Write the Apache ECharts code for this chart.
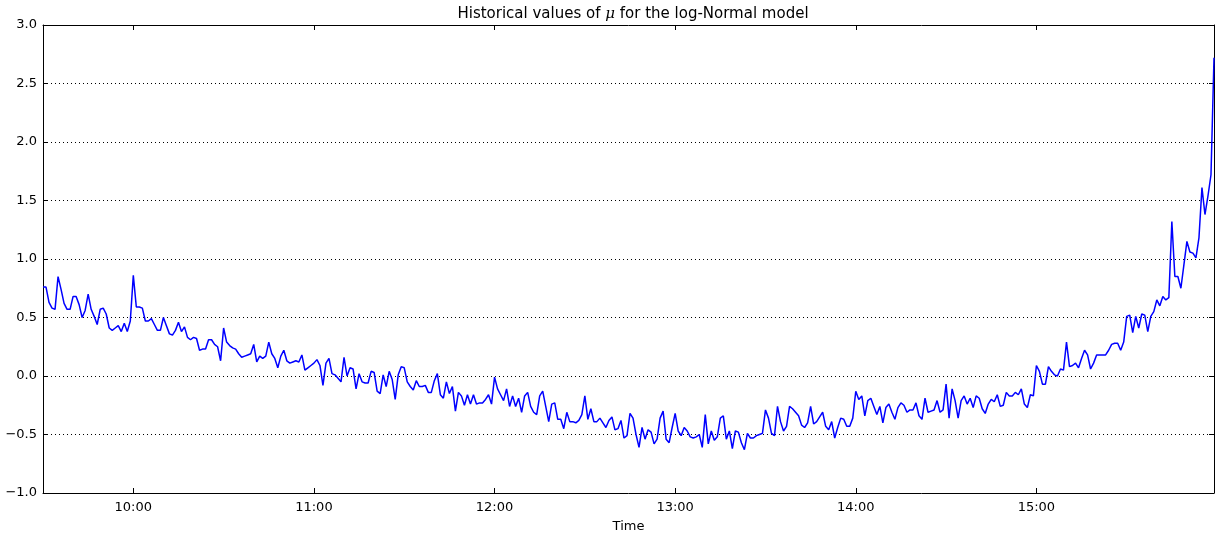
<!DOCTYPE html>
<html>
<head>
<meta charset="utf-8">
<script src="https://cdn.jsdelivr.net/npm/echarts@6/dist/echarts.min.js"></script>
<style>
  html, body { margin: 0; padding: 0; background: #fff; }
  #chart_example { width: 1219px; height: 538px; }
</style>
</head>
<body>
<div id="chart_example"></div>
<script>
// mu values, one per minute, starting 9:30
var startMinute = 9 * 60 + 30;
var mu0930 = [0.76,0.76,0.63,0.58,0.57,0.85,0.74,0.62,0.57,0.57,
  0.68,0.68,0.61,0.50,0.56,0.70,0.57,0.51,0.44,0.57,
  0.58,0.53,0.41,0.39,0.41,0.43,0.38,0.45,0.38,0.47];
var mu1000 = [0.86,0.59,0.59,0.58,0.47,0.47,0.49,0.44,0.39,0.39,
  0.50,0.43,0.36,0.35,0.39,0.46,0.38,0.42,0.33,0.31,
  0.33,0.32,0.22,0.23,0.23,0.31,0.31,0.27,0.25,0.13,
  0.41,0.29,0.26,0.24,0.23,0.19,0.16,0.17,0.18,0.19,
  0.27,0.12,0.17,0.15,0.17,0.29,0.19,0.15,0.07,0.17,
  0.22,0.13,0.11,0.12,0.13,0.12,0.18,0.05,0.07,0.09];
var mu1100 = [0.11,0.14,0.09,-0.08,0.11,0.15,0.02,0.01,-0.02,-0.05,
  0.16,0.00,0.07,0.06,-0.11,0.02,-0.05,-0.06,-0.06,0.04,
  0.03,-0.13,-0.15,0.01,-0.09,0.04,-0.03,-0.20,0.01,0.08,
  0.07,-0.05,-0.09,-0.12,-0.04,-0.09,-0.09,-0.08,-0.14,-0.14,
  -0.04,0.02,-0.16,-0.19,-0.05,-0.15,-0.09,-0.30,-0.14,-0.17,
  -0.25,-0.16,-0.24,-0.16,-0.24,-0.23,-0.23,-0.20,-0.16,-0.24];
var mu1200 = [-0.01,-0.11,-0.16,-0.21,-0.11,-0.26,-0.17,-0.26,-0.19,-0.31,
  -0.17,-0.14,-0.26,-0.31,-0.33,-0.17,-0.13,-0.26,-0.39,-0.24,
  -0.23,-0.37,-0.37,-0.45,-0.31,-0.39,-0.39,-0.40,-0.38,-0.33,
  -0.17,-0.37,-0.28,-0.39,-0.39,-0.36,-0.40,-0.44,-0.38,-0.35,
  -0.46,-0.45,-0.38,-0.53,-0.51,-0.32,-0.36,-0.50,-0.61,-0.44,
  -0.54,-0.46,-0.48,-0.58,-0.54,-0.36,-0.30,-0.54,-0.57,-0.44];
var mu1300 = [-0.32,-0.47,-0.51,-0.44,-0.47,-0.52,-0.53,-0.52,-0.50,-0.61,
  -0.33,-0.58,-0.47,-0.55,-0.52,-0.36,-0.34,-0.54,-0.47,-0.62,
  -0.47,-0.48,-0.57,-0.63,-0.49,-0.53,-0.53,-0.51,-0.50,-0.49,
  -0.29,-0.36,-0.49,-0.51,-0.26,-0.39,-0.47,-0.43,-0.26,-0.28,
  -0.31,-0.34,-0.42,-0.44,-0.40,-0.26,-0.41,-0.39,-0.35,-0.31,
  -0.43,-0.46,-0.39,-0.53,-0.44,-0.36,-0.37,-0.43,-0.43,-0.36];
var mu1400 = [-0.13,-0.20,-0.17,-0.34,-0.21,-0.19,-0.26,-0.33,-0.26,-0.40,
  -0.27,-0.24,-0.31,-0.37,-0.27,-0.23,-0.25,-0.31,-0.29,-0.29,
  -0.23,-0.34,-0.37,-0.19,-0.31,-0.30,-0.29,-0.21,-0.31,-0.29,
  -0.07,-0.36,-0.11,-0.21,-0.36,-0.21,-0.17,-0.24,-0.19,-0.27,
  -0.17,-0.19,-0.28,-0.32,-0.24,-0.20,-0.22,-0.16,-0.26,-0.25,
  -0.14,-0.17,-0.17,-0.14,-0.16,-0.11,-0.24,-0.27,-0.16,-0.17];
var mu1500 = [0.09,0.04,-0.07,-0.07,0.08,0.04,0.01,0.00,0.06,0.05,
  0.29,0.08,0.09,0.11,0.07,0.15,0.22,0.18,0.06,0.11,
  0.18,0.18,0.18,0.18,0.22,0.27,0.28,0.28,0.22,0.29,
  0.51,0.52,0.37,0.51,0.41,0.53,0.52,0.38,0.51,0.55,
  0.65,0.60,0.68,0.65,0.67,1.32,0.85,0.85,0.75,0.95,
  1.15,1.06,1.05,1.01,1.18,1.61,1.38,1.54,1.72,2.72];
var hourTicks = [600, 660, 720, 780, 840, 900];

var muAll = [].concat(mu0930, mu1000, mu1100, mu1200, mu1300, mu1400, mu1500);
var seriesData = muAll.map(function (v, i) { return [startMinute + i, v]; });
var endMinute = startMinute + muAll.length - 1;

function fmtTime(m) {
  var h = Math.floor(m / 60), mm = m % 60;
  return h + ':' + (mm < 10 ? '0' + mm : mm);
}
function fmtY(v) {
  var s = Math.abs(v).toFixed(1);
  return v < 0 ? '\u2212' + s : s;
}

var font = 'DejaVu Sans';
var frameLine = { show: true, onZero: false, lineStyle: { color: '#000', width: 1 } };

var option1 = {
  animation: false,
  backgroundColor: '#fff',
  title: {
    text: 'Historical values of {m|\u03bc} for the log-Normal model',
    left: 628, textAlign: 'center', top: 2,
    textStyle: {
      color: '#000', fontFamily: font, fontSize: 15, fontWeight: 'normal',
      rich: { m: { fontFamily: 'DejaVu Serif', fontStyle: 'italic', fontSize: 15, color: '#000' } }
    }
  },
  grid: { left: 43, right: 5, top: 25, bottom: 45, containLabel: false },
  xAxis: [
    {
      type: 'value', min: startMinute, max: endMinute, position: 'bottom',
      name: 'Time', nameLocation: 'middle', nameGap: 27,
      nameTextStyle: { color: '#000', fontFamily: font, fontSize: 13 },
      axisLine: frameLine,
      axisTick: { inside: true, length: 5, customValues: hourTicks, lineStyle: { color: '#000' } },
      axisLabel: { customValues: hourTicks, formatter: fmtTime, color: '#000', fontFamily: font, fontSize: 13, margin: 8 },
      splitLine: { show: false }
    },
    {
      type: 'value', min: startMinute, max: endMinute, position: 'top',
      axisLine: frameLine,
      axisTick: { inside: true, length: 5, customValues: hourTicks, lineStyle: { color: '#000' } },
      axisLabel: { show: false },
      splitLine: { show: false }
    }
  ],
  yAxis: [
    {
      type: 'value', min: -1, max: 3, interval: 0.5, position: 'left',
      axisLine: frameLine,
      axisTick: { show: true, inside: true, length: 5, lineStyle: { color: '#000' } },
      axisLabel: { formatter: fmtY, color: '#000', fontFamily: font, fontSize: 13, margin: 6 },
      splitLine: { show: true, lineStyle: { color: '#000', width: 1, type: [1, 3] } }
    },
    {
      type: 'value', min: -1, max: 3, interval: 0.5, position: 'right',
      axisLine: frameLine,
      axisTick: { show: true, inside: true, length: 5, lineStyle: { color: '#000' } },
      axisLabel: { show: false },
      splitLine: { show: false }
    }
  ],
  series: [
    {
      name: 'mu', type: 'line', xAxisIndex: 0, yAxisIndex: 0,
      showSymbol: false, symbol: 'none',
      lineStyle: { color: '#0000ff', width: 1.5 },
      data: seriesData
    }
  ]
};

var myChart = echarts.init(document.getElementById('chart_example'));
myChart.setOption(option1);
window.addEventListener('resize', function () { myChart.resize(); });
</script>
</body>
</html>
